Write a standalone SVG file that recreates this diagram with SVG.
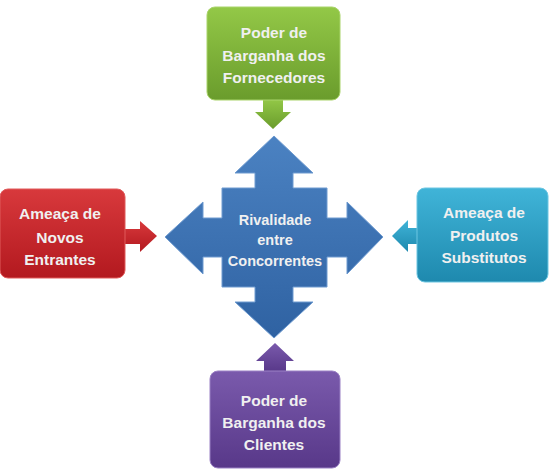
<svg xmlns="http://www.w3.org/2000/svg" width="552" height="475" viewBox="0 0 552 475">
<defs>
<linearGradient id="gG" x1="0" y1="0" x2="0" y2="1"><stop offset="0" stop-color="#93c847"/><stop offset="1" stop-color="#6a9c2c"/></linearGradient>
<linearGradient id="gR" x1="0" y1="0" x2="0" y2="1"><stop offset="0" stop-color="#d8393c"/><stop offset="1" stop-color="#b3191f"/></linearGradient>
<linearGradient id="gT" x1="0" y1="0" x2="0" y2="1"><stop offset="0" stop-color="#40b4d8"/><stop offset="1" stop-color="#1e89ae"/></linearGradient>
<linearGradient id="gP" x1="0" y1="0" x2="0" y2="1"><stop offset="0" stop-color="#7a5aac"/><stop offset="1" stop-color="#583889"/></linearGradient>
<linearGradient id="gB" x1="0" y1="0" x2="0" y2="1"><stop offset="0" stop-color="#4b82c2"/><stop offset="1" stop-color="#2f62a2"/></linearGradient>
</defs>
<style>
text{font-family:"Liberation Sans",Arial,sans-serif;font-weight:bold;font-size:15.5px;fill:#f0f0f0;text-anchor:middle}
#center text{font-size:14.5px}
.box{stroke-width:1}
</style>
<g id="connectors">
<path d="M263,99 L283,99 L283,112 L291,112 L273,129 L255,112 L263,112 Z" fill="url(#gG)"/>
<path d="M124,229 L140,229 L140,221 L157,236 L140,252 L140,244 L124,244 Z" fill="url(#gR)"/>
<path d="M418,228 L408,228 L408,220 L392,236 L408,252 L408,244 L418,244 Z" fill="url(#gT)"/>
<path d="M264,372 L264,361 L256,361 L275,343 L294,361 L286,361 L286,372 Z" fill="url(#gP)"/>
</g>
<g id="center">
<path d="M274,136 L313,173 L293,173 L293,188 L327,188 L327,218 L347,218 L347,202 L383,237 L347,274 L347,257 L327,257 L327,287 L293,287 L293,302 L313,302 L274,338 L235,302 L255,302 L255,287 L222,287 L222,257 L203,257 L203,274 L165,237 L203,202 L203,218 L222,218 L222,188 L255,188 L255,173 L235,173 Z" fill="url(#gB)" stroke="#6f9bd0" stroke-width="1"/>
<text x="275" y="225">Rivalidade</text>
<text x="275" y="245">entre</text>
<text x="275" y="266">Concorrentes</text>
</g>
<g id="fornecedores">
<rect x="207" y="7" width="133" height="93" rx="8" fill="url(#gG)" stroke="#a9d46a" class="box"/>
<text x="274" y="38">Poder de</text>
<text x="274" y="61">Barganha dos</text>
<text x="274" y="83">Fornecedores</text>
</g>
<g id="entrantes">
<rect x="0" y="189" width="125" height="89" rx="8" fill="url(#gR)" stroke="#e05a5a" class="box"/>
<text x="60" y="219">Ameaça de</text>
<text x="60" y="243">Novos</text>
<text x="60" y="265">Entrantes</text>
</g>
<g id="substitutos">
<rect x="417" y="188" width="131" height="94" rx="8" fill="url(#gT)" stroke="#6cc6e2" class="box"/>
<text x="484" y="218">Ameaça de</text>
<text x="484" y="241">Produtos</text>
<text x="484" y="263">Substitutos</text>
</g>
<g id="clientes">
<rect x="210" y="371" width="130" height="97" rx="8" fill="url(#gP)" stroke="#9a80c4" class="box"/>
<text x="274" y="406">Poder de</text>
<text x="274" y="428">Barganha dos</text>
<text x="274" y="450">Clientes</text>
</g>
</svg>
